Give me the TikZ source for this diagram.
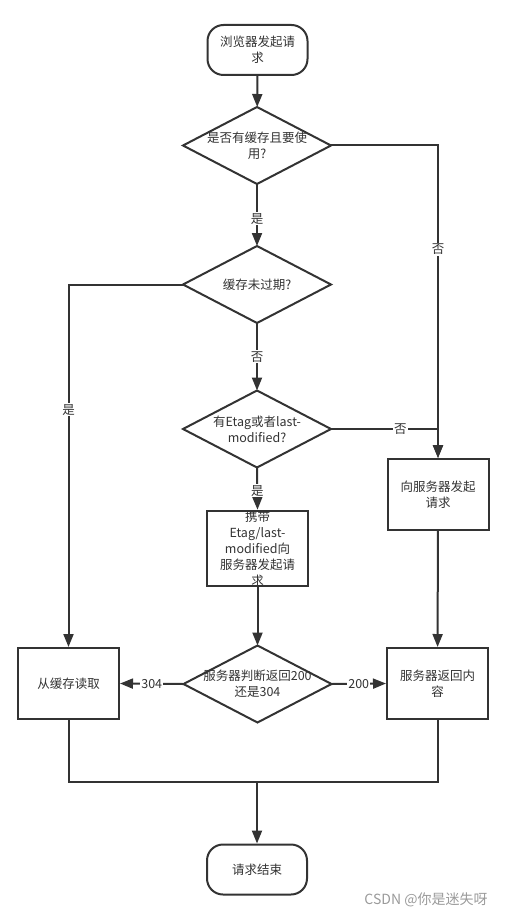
\documentclass[tikz,border=0pt]{standalone}
\usepackage{fontspec}
\setmainfont{Noto Sans CJK SC}
\usepackage{xcolor}
\usepackage{tikz}
\usetikzlibrary{arrows.meta}
\definecolor{c1}{HTML}{333333}
\definecolor{c2}{HTML}{9a9a9a}

\begin{document}
\begin{tikzpicture}[x=1pt, y=-1pt, line width=2pt, c1,
	font=\fontsize{12.5}{16}\selectfont,
	term/.style={draw, rounded corners=16pt, minimum width=100pt, minimum height=50pt, align=center, inner sep=0pt},
	proc/.style={draw, minimum width=101pt, minimum height=71pt, align=center, inner sep=0pt},
	cond/.style={minimum width=146pt, minimum height=75pt, align=center, inner sep=0pt},
	flow/.style={-{Triangle[length=13pt, width=10pt]}},
	lbl/.style={fill=white, inner sep=1pt}]
	\useasboundingbox (0, 0) rectangle (506, 917);

	\node[term] (start) at (257.5, 50) {浏览器发起请\\求};
	\node[cond] (d1) at (257, 145.5) {是否有缓存且要使\\用?};
	\node[cond] (d2) at (257, 284.5) {缓存未过期?};
	\node[cond] (d3) at (257, 429) {有Etag或者last-\\modified?};
	\node[proc] (carry) at (257.5, 548.5) {携带\\Etag/last-\\modified向\\服务器发起请\\求};
	\node[proc] (req) at (438, 494.5) {向服务器发起\\请求};
	\node[cond] (d4) at (257.5, 684) {服务器判断返回200\\还是304};
	\node[proc] (cache) at (68.5, 683.5) {从缓存读取};
	\node[proc] (resp) at (437.5, 683.5) {服务器返回内\\容};
	\node[term] (finish) at (257, 869.5) {请求结束};
	\coordinate (join) at (257, 782);

	% diamonds
	\foreach \d in {d1, d2, d3, d4}
		\draw (\d.west) -- (\d.north) -- (\d.east) -- (\d.south) -- cycle;

	\draw[flow] (start) -- (d1);
	\draw[flow] (d1.south) -- (d2.north) node[lbl, pos=0.56] {是};
	\draw[flow] (d1.east) -| (req.north) node[lbl, pos=0.666] {否};
	\draw[flow] (d2.south) -- (d3.north) node[lbl, midway] {否};
	\draw[flow] (d2.west) -| (cache.north) node[lbl, pos=0.673] {是};
	\draw[flow] (d3.east) -| (req.north) node[lbl, pos=0.324] {否};
	\draw[flow] (d3.south) -- (carry.north) node[lbl, pos=0.55] {是};
	\draw[flow] (carry) -- (d4);
	\draw[flow] (req) -- (resp);
	\draw[flow] (d4.west) -- (cache.east) node[lbl, midway] {304};
	\draw[flow] (d4.east) -- (resp.west) node[lbl, midway] {200};
	\draw (cache.south) |- (join) -| (resp.south);
	\draw[flow] (join) -- (finish.north);

	\node[c2, font=\fontsize{14}{16}\selectfont] (mark) at (426, 900) {CSDN @你是迷失呀};
\end{tikzpicture}
\end{document}
